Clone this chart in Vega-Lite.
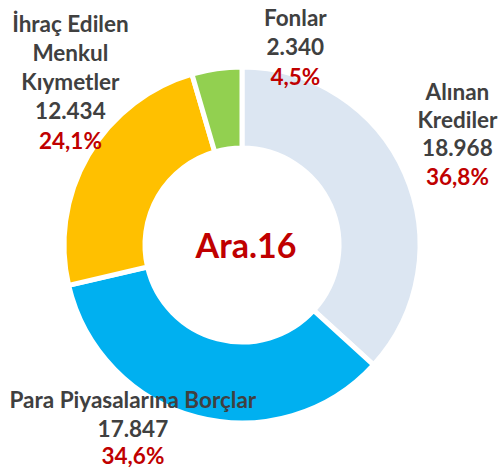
{
  "$schema": "https://vega.github.io/schema/vega-lite/v6.json",
  "width": 484,
  "height": 448,
  "autosize": {"type": "none"},
  "padding": {"left": 0, "top": 21, "right": 17, "bottom": 0},
  "background": "white",
  "config": {"view": {"stroke": null}},
  "datasets": {
    "dilim": [
      {"ad": "Alınan Krediler", "deger": 18968, "sira": 1, "etiket": "Alınan\nKrediler\n18.968", "oran": "36,8%"},
      {"ad": "Para Piyasalarına Borçlar", "deger": 17847, "sira": 2, "etiket": "Para Piyasalarına Borçlar\n17.847", "oran": "34,6%"},
      {"ad": "İhraç Edilen Menkul Kıymetler", "deger": 12434, "sira": 3, "etiket": "İhraç Edilen\nMenkul\nKıymetler\n12.434", "oran": "24,1%"},
      {"ad": "Fonlar", "deger": 2340, "sira": 4, "etiket": "Fonlar\n2.340", "oran": "4,5%"}
    ],
    "baslik": [{"metin": "Ara.16"}]
  },
  "layer": [
    {
      "data": {"name": "dilim"},
      "mark": {"type": "arc", "innerRadius": 97, "outerRadius": 178, "stroke": "white", "strokeWidth": 5},
      "encoding": {
        "theta": {"field": "deger", "type": "quantitative", "stack": true},
        "order": {"field": "sira", "type": "quantitative"},
        "color": {"field": "ad", "type": "nominal", "legend": null,
          "scale": {"domain": ["Alınan Krediler", "Para Piyasalarına Borçlar", "İhraç Edilen Menkul Kıymetler", "Fonlar"],
                    "range": ["#DCE6F2", "#00B0F0", "#FFC000", "#92D050"]}}
      }
    },
    {
      "data": {"name": "dilim"},
      "mark": {"type": "text", "radius": 230, "dx": 5, "dy": -59, "font": "Lato", "fontWeight": "bold", "fontSize": 22.5, "color": "#404040", "lineBreak": "\n", "lineHeight": 28, "align": "center", "baseline": "middle"},
      "encoding": {
        "theta": {"field": "deger", "type": "quantitative", "stack": true},
        "order": {"field": "sira", "type": "quantitative"},
        "text": {"condition": {"test": "datum.sira == 1", "field": "etiket"}, "value": ""}
      }
    },
    {
      "data": {"name": "dilim"},
      "mark": {"type": "text", "radius": 230, "dx": 5, "dy": 26, "font": "Lato", "fontWeight": "bold", "fontSize": 22.5, "color": "#C00000", "align": "center", "baseline": "middle"},
      "encoding": {
        "theta": {"field": "deger", "type": "quantitative", "stack": true},
        "order": {"field": "sira", "type": "quantitative"},
        "text": {"condition": {"test": "datum.sira == 1", "field": "oran"}, "value": ""}
      }
    },
    {
      "data": {"name": "dilim"},
      "mark": {"type": "text", "radius": 230, "dx": -51, "dy": -67, "font": "Lato", "fontWeight": "bold", "fontSize": 22.5, "color": "#404040", "lineBreak": "\n", "lineHeight": 29, "align": "center", "baseline": "middle"},
      "encoding": {
        "theta": {"field": "deger", "type": "quantitative", "stack": true},
        "order": {"field": "sira", "type": "quantitative"},
        "text": {"condition": {"test": "datum.sira == 2", "field": "etiket"}, "value": ""}
      }
    },
    {
      "data": {"name": "dilim"},
      "mark": {"type": "text", "radius": 230, "dx": -51, "dy": -11, "font": "Lato", "fontWeight": "bold", "fontSize": 22.5, "color": "#C00000", "align": "center", "baseline": "middle"},
      "encoding": {
        "theta": {"field": "deger", "type": "quantitative", "stack": true},
        "order": {"field": "sira", "type": "quantitative"},
        "text": {"condition": {"test": "datum.sira == 2", "field": "oran"}, "value": ""}
      }
    },
    {
      "data": {"name": "dilim"},
      "mark": {"type": "text", "radius": 230, "dx": 27, "dy": -104, "font": "Lato", "fontWeight": "bold", "fontSize": 22.5, "color": "#404040", "lineBreak": "\n", "lineHeight": 29, "align": "center", "baseline": "middle"},
      "encoding": {
        "theta": {"field": "deger", "type": "quantitative", "stack": true},
        "order": {"field": "sira", "type": "quantitative"},
        "text": {"condition": {"test": "datum.sira == 3", "field": "etiket"}, "value": ""}
      }
    },
    {
      "data": {"name": "dilim"},
      "mark": {"type": "text", "radius": 230, "dx": 27, "dy": 13, "font": "Lato", "fontWeight": "bold", "fontSize": 22.5, "color": "#C00000", "align": "center", "baseline": "middle"},
      "encoding": {
        "theta": {"field": "deger", "type": "quantitative", "stack": true},
        "order": {"field": "sira", "type": "quantitative"},
        "text": {"condition": {"test": "datum.sira == 3", "field": "oran"}, "value": ""}
      }
    },
    {
      "data": {"name": "dilim"},
      "mark": {"type": "text", "radius": 230, "dx": 86, "dy": 2, "font": "Lato", "fontWeight": "bold", "fontSize": 22.5, "color": "#404040", "lineBreak": "\n", "lineHeight": 29, "align": "center", "baseline": "middle"},
      "encoding": {
        "theta": {"field": "deger", "type": "quantitative", "stack": true},
        "order": {"field": "sira", "type": "quantitative"},
        "text": {"condition": {"test": "datum.sira == 4", "field": "etiket"}, "value": ""}
      }
    },
    {
      "data": {"name": "dilim"},
      "mark": {"type": "text", "radius": 230, "dx": 86, "dy": 61, "font": "Lato", "fontWeight": "bold", "fontSize": 22.5, "color": "#C00000", "align": "center", "baseline": "middle"},
      "encoding": {
        "theta": {"field": "deger", "type": "quantitative", "stack": true},
        "order": {"field": "sira", "type": "quantitative"},
        "text": {"condition": {"test": "datum.sira == 4", "field": "oran"}, "value": ""}
      }
    },
    {
      "data": {"name": "baslik"},
      "mark": {"type": "text", "dx": 4, "dy": 3, "font": "Lato", "fontWeight": "bold", "fontSize": 34, "color": "#C00000", "align": "center", "baseline": "middle"},
      "encoding": {
        "text": {"field": "metin", "type": "nominal"}
      }
    }
  ]
}
